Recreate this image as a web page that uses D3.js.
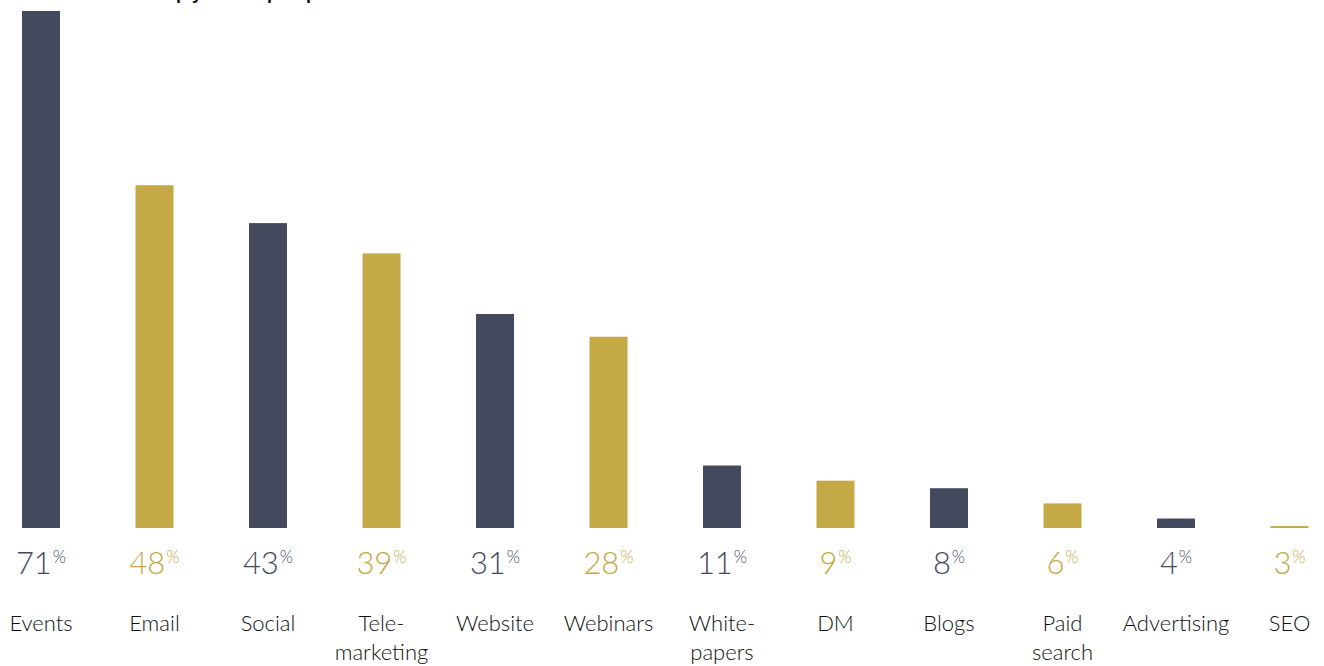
<!DOCTYPE html>
<html>
<head>
<meta charset="utf-8">
<script src="https://cdn.jsdelivr.net/npm/d3@7"></script>
<style>
  html, body { margin: 0; padding: 0; background: #ffffff; }
  svg { display: block; }
</style>
</head>
<body>
<svg id="chart" width="1324" height="666"></svg>
<script>
// Share of respondents naming each channel
const categories = ["Events", "Email", "Social", "Tele-\nmarketing", "Website", "Webinars",
                    "White-\npapers", "DM", "Blogs", "Paid\nsearch", "Advertising", "SEO"];
const values = [71, 48, 43, 39, 31, 28, 11, 9, 8, 6, 4, 3];
const valueLabels = ["71", "48", "43", "39", "31", "28", "11", "9", "8", "6", "4", "3"];
const palette = ["#434a5e", "#c4a946"];

const svg = d3.select("#chart");

const x = d3.scalePoint()
  .domain(categories)
  .range([-15.75, 1346.25])
  .padding(0.5);

// Axis baseline sits a little above zero so the smallest bars stay visible
const y = d3.scaleLinear()
  .domain([2.75, 71])
  .range([528, 11]);

const barW = 38;
const colour = (d, i) => palette[i % 2];

// Heading line (runs off the top edge)
svg.append("text")
  .attr("x", 8)
  .attr("y", -1)
  .attr("font-family", "Liberation Sans, Arial, sans-serif")
  .attr("font-weight", "bold")
  .attr("font-size", 18)
  .attr("fill", "#111")
  .text("Which channels help you find prospects?");

// Bars
svg.append("g")
  .selectAll("rect")
  .data(values)
  .join("rect")
  .attr("x", (d, i) => x(categories[i]) - barW / 2)
  .attr("y", d => y(d))
  .attr("width", barW)
  .attr("height", d => y.range()[0] - y(d))
  .attr("fill", colour);

// Value labels with superscript percent sign
const vl = svg.append("g")
  .selectAll("text")
  .data(values)
  .join("text")
  .attr("x", (d, i) => x(categories[i]))
  .attr("y", 574)
  .attr("text-anchor", "middle")
  .attr("font-family", "Lato, sans-serif")
  .attr("font-weight", 300)
  .attr("fill", colour);
vl.append("tspan")
  .attr("font-size", 31)
  .text((d, i) => valueLabels[i]);
vl.append("tspan")
  .attr("font-size", 17)
  .attr("dy", -11)
  .attr("dx", 1)
  .text("%");

// Category labels, possibly on two lines
const cl = svg.append("g")
  .selectAll("text")
  .data(categories)
  .join("text")
  .attr("x", d => x(d))
  .attr("y", 631)
  .attr("text-anchor", "middle")
  .attr("font-family", "Lato, sans-serif")
  .attr("font-weight", 300)
  .attr("font-size", 22)
  .attr("fill", "#111111");
cl.selectAll("tspan")
  .data(d => d.split("\n").map(s => ({ s, x: x(d) })))
  .join("tspan")
  .attr("x", t => t.x)
  .attr("dy", (t, j) => j === 0 ? 0 : 29)
  .text(t => t.s);
</script>
</body>
</html>
